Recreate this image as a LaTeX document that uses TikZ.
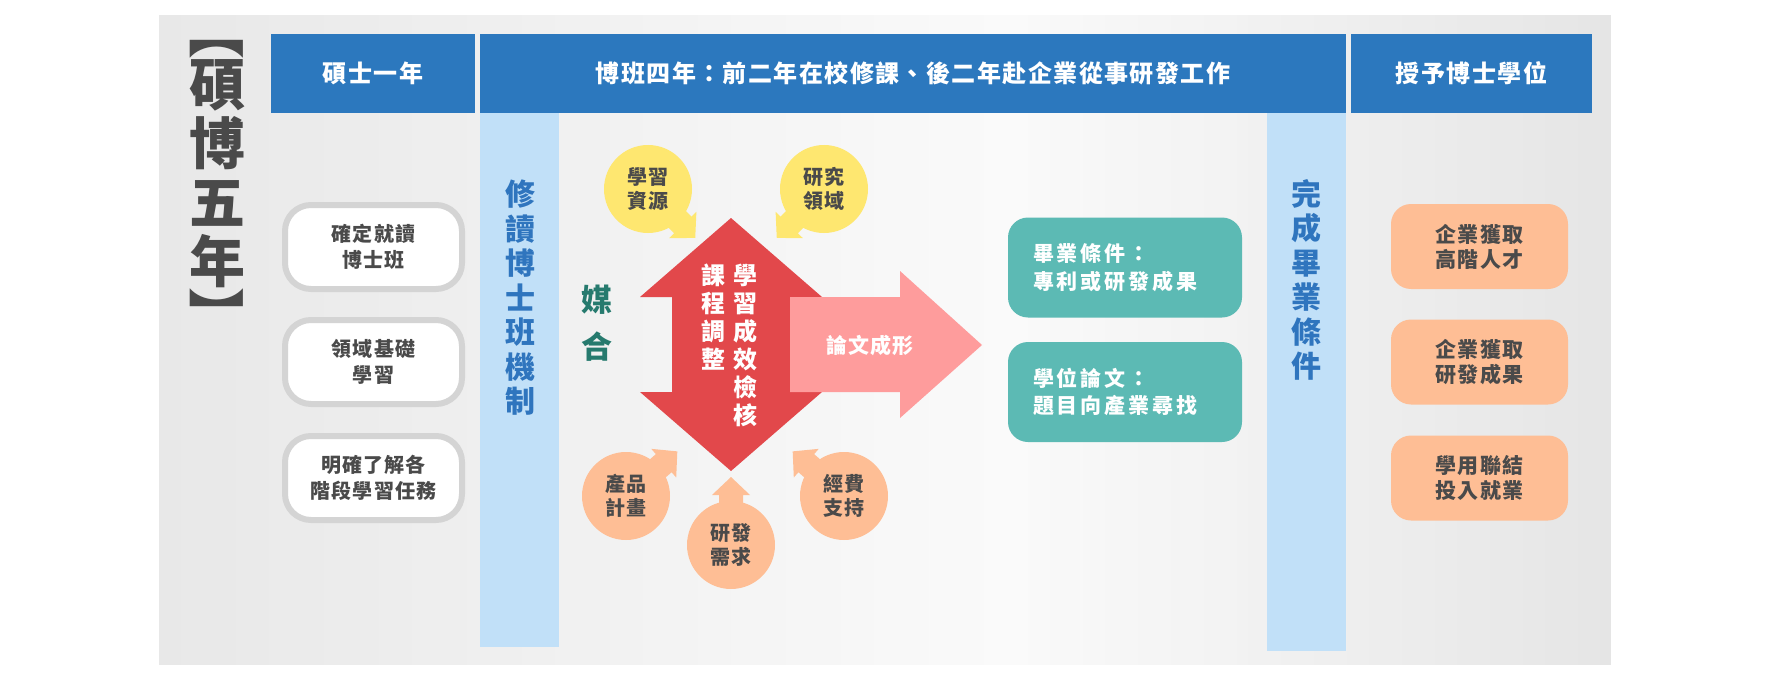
\documentclass[tikz,border=0pt]{standalone}
\usepackage{fontspec}
\setmainfont{Noto Sans CJK TC}[LetterSpace=6]
\newfontfamily\widecjk{Noto Sans CJK TC}[LetterSpace=14]

\definecolor{panelL}{RGB}{232,232,232}
\definecolor{panelM}{RGB}{250,250,250}
\definecolor{panelR}{RGB}{229,229,229}
\definecolor{hdrblue}{RGB}{44,120,190}
\definecolor{laneblue}{RGB}{193,224,248}
\definecolor{vblue}{RGB}{47,117,190}
\definecolor{inkgray}{RGB}{74,74,74}
\definecolor{boxgray}{RGB}{212,212,212}
\definecolor{tealbox}{RGB}{92,186,180}
\definecolor{matchteal}{RGB}{38,122,110}
\definecolor{redarrow}{RGB}{226,72,75}
\definecolor{pinkarrow}{RGB}{254,156,156}
\definecolor{sun}{RGB}{254,231,112}
\definecolor{peach}{RGB}{254,190,149}

\newcommand{\bubble}[5]{%
  \begin{scope}[shift={(#2)},rotate=#3]
    \fill[#4] (0,-12) -- (50,-12) -- (50,-19) -- (68,0) -- (50,19) -- (50,12) -- (0,12) -- cycle;
  \end{scope}
  \node[bubblenode,fill=#4] (#1) at (#2) {#5};
}

\begin{document}
\begin{tikzpicture}[x=1pt,y=-1pt,
  hdr/.style={fill=hdrblue,text=white,minimum height=79,inner sep=0,font=\fontsize{24}{26}\selectfont\bfseries},
  lane/.style={fill=laneblue,inner sep=0,minimum width=79},
  vtext/.style={text=vblue,align=center,inner sep=0,font=\fontsize{30}{34.5}\selectfont\bfseries},
  whitebox/.style={draw=boxgray,line width=6,fill=white,rounded corners=26,minimum width=177,minimum height=84,align=center,text=inkgray,inner sep=0,font=\fontsize{20}{26}\selectfont\bfseries},
  tealnode/.style={fill=tealbox,rounded corners=20,minimum height=100,text width=184,inner xsep=25,align=left,text=white,font=\widecjk\fontsize{21}{27.5}\selectfont\bfseries},
  peachbox/.style={fill=peach,rounded corners=20,minimum width=177,minimum height=85,align=center,text=inkgray,inner sep=0,font=\fontsize{21}{25}\selectfont\bfseries},
  bubblenode/.style={circle,minimum size=88,inner sep=0,align=center,text=inkgray,font=\fontsize{20}{24}\selectfont\bfseries},
  redtext/.style={text=white,align=center,inner sep=0,font=\fontsize{24}{28}\selectfont\bfseries}]
\useasboundingbox (0,0) rectangle (1772,682);

\foreach \x in {159,170,...,1600}{
  \pgfmathtruncatemacro{\mixL}{\x<1000 ? (1000-\x)/8.41 : (\x-1000)/6.11}
  \ifnum\x<1000 \colorlet{strip}{panelL!\mixL!panelM}\else\colorlet{strip}{panelR!\mixL!panelM}\fi
  \fill[strip] (\x,15) rectangle ({min(\x+11.6,1611)},665);
}

\node[text=inkgray,align=center,inner sep=0,font=\fontsize{56}{59}\selectfont\bfseries] (title) at (217,173.5) {碩\\博\\五\\年};
\node[rotate=-90,text=inkgray,inner sep=0,font=\fontsize{56}{59}\selectfont\bfseries] (titletop) at (217,32) {【};
\node[rotate=-90,text=inkgray,inner sep=0,font=\fontsize{56}{59}\selectfont\bfseries] (titlebot) at (217,315) {】};

\node[hdr,minimum width=204] (hmaster) at (373,73.5) {碩士一年};
\node[hdr,minimum width=866] (hphd) at (913,73.5) {博班四年：前二年在校修課、後二年赴企業從事研發工作};
\node[hdr,minimum width=241] (hdegree) at (1471.5,73.5) {授予博士學位};

\node[lane,minimum height=534] (lanestudy) at (519.5,380) {};
\node[lane,minimum height=538] (lanegrad) at (1306.5,382) {};
\node[vtext] (study) at (520,298) {修\\讀\\博\\士\\班\\機\\制};
\node[vtext] (grad) at (1306,280) {完\\成\\畢\\業\\條\\件};

\node[whitebox] (sure) at (373.5,247) {確定就讀\\博士班};
\node[whitebox] (basic) at (373.5,362) {領域基礎\\學習};
\node[whitebox] (tasks) at (373.5,478) {明確了解各\\階段學習任務};

\fill[redarrow] (731,218) -- (822,297) -- (790,297) -- (790,392) -- (822,392) -- (731,471)
  -- (640,392) -- (672,392) -- (672,297) -- (640,297) -- cycle;
\fill[pinkarrow] (790,297) -- (900,297) -- (900,271) -- (982,345) -- (900,418) -- (900,392) -- (790,392) -- cycle;
\node[redtext] (check) at (745,345) {學\\習\\成\\效\\檢\\核};
\node[redtext] (adjust) at (713,317) {課\\程\\調\\整};
\node[text=white,inner sep=0,font=\fontsize{21}{25}\selectfont\bfseries] (thesis) at (870,345) {論文成形};
\node[text=matchteal,align=center,inner sep=0,font=\fontsize{31}{47}\selectfont\bfseries] (match) at (597,323.5) {媒\\合};

\bubble{res}{648,189}{-46}{sun}{學習\\資源}
\bubble{field}{824,189}{-134}{sun}{研究\\領域}
\bubble{prod}{626,496}{41}{peach}{產品\\計畫}
\bubble{need}{731,545}{90}{peach}{研發\\需求}
\bubble{fund}{844,496}{139}{peach}{經費\\支持}

\node[tealnode] (cond) at (1125,267.5) {畢業條件：\\專利或研發成果};
\node[tealnode] (topic) at (1125,392) {學位論文：\\題目向產業尋找};

\node[peachbox] (talent) at (1479.5,246.5) {企業獲取\\高階人才};
\node[peachbox] (result) at (1479.5,362) {企業獲取\\研發成果};
\node[peachbox] (job) at (1479.5,478) {學用聯結\\投入就業};
\end{tikzpicture}
\end{document}
